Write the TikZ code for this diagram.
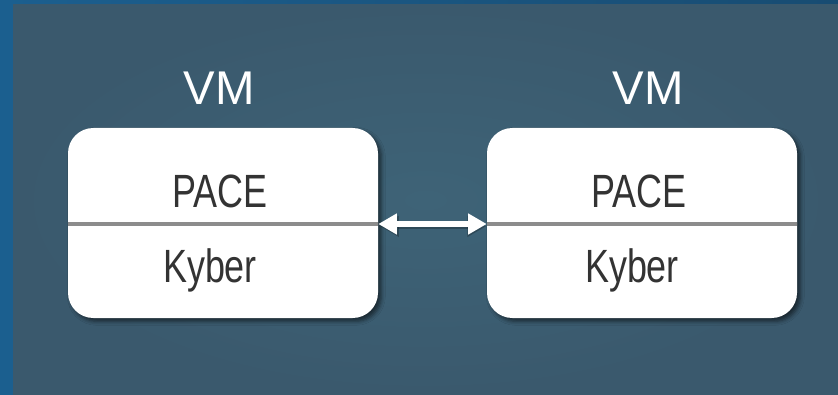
\documentclass[tikz,border=0pt]{standalone}
\usepackage{fontspec}
\setmainfont{Liberation Sans}
\newfontfamily\narrowsans[FakeStretch=0.77]{Liberation Sans}
\usetikzlibrary{shadows.blur,arrows.meta}
\definecolor{outerblue}{HTML}{1B5F8F}
\definecolor{outertop}{HTML}{184C72}
\definecolor{panel}{HTML}{3A596D}
\definecolor{panelmid}{HTML}{3E6377}
\definecolor{divider}{HTML}{8C8C8C}
\definecolor{ink}{HTML}{333333}
\tikzset{
  vmbox/.style={draw=none, fill=white, rounded corners=19pt,
    minimum width=232.5pt, minimum height=142.5pt, inner sep=0pt,
    blur shadow={shadow xshift=2.5pt, shadow yshift=-2.5pt,
      shadow blur radius=3pt, shadow opacity=55}},
  divline/.style={draw=divider, line width=3pt},
  linktips/.style={{Triangle[length=14pt,width=15pt]}-{Triangle[length=14pt,width=15pt]}},
  dblarrow/.style={draw=white, line width=4.2pt, linktips},
  arrowshade/.style={draw=black, opacity=0.25, line width=4.2pt, linktips},
  vmlabel/.style={text=white, inner sep=0pt, anchor=base,
    font=\fontsize{35.5}{40}\selectfont},
  boxtext/.style={text=ink, inner sep=0pt, anchor=base,
    font=\narrowsans\fontsize{35}{40}\selectfont},
}
\begin{document}
\begin{tikzpicture}[x=0.75pt,y=-0.75pt]
  \useasboundingbox (0,0) rectangle (838,395);
  % backdrop and darker inner panel
  \fill[left color=outerblue, right color=outertop] (0,0) rectangle (838,395);
  \fill[outerblue] (0,0) rectangle (13,395);
  \fill[inner color=panelmid, outer color=panel] (13,5) rectangle (838,395);

  % the two machines
  \node[vmbox] (boxL) at (223,223) {};
  \node[vmbox] (boxR) at (642,223) {};

  % layer separators
  \draw[divline] ([yshift=-0.75pt]boxL.west) -- ([yshift=-0.75pt]boxL.east);
  \draw[divline] ([yshift=-0.75pt]boxR.west) -- ([yshift=-0.75pt]boxR.east);

  % link between the machines
  \draw[arrowshade] ([xshift=1.5pt,yshift=-2.5pt]boxL.east) -- ([xshift=-0.5pt,yshift=-2.5pt]boxR.west);
  \draw[dblarrow] ([yshift=-0.75pt]boxL.east) -- ([yshift=-0.75pt]boxR.west);

  % labels
  \node[vmlabel] (vmL) at (219,105) {VM};
  \node[vmlabel] (vmR) at (648,105) {VM};
  \node[boxtext] (paceL) at (220,207.7) {PACE};
  \node[boxtext] (kyberL) at (210,282.7) {Kyber};
  \node[boxtext] (paceR) at (638.8,207.7) {PACE};
  \node[boxtext] (kyberR) at (632,282.7) {Kyber};
\end{tikzpicture}
\end{document}
